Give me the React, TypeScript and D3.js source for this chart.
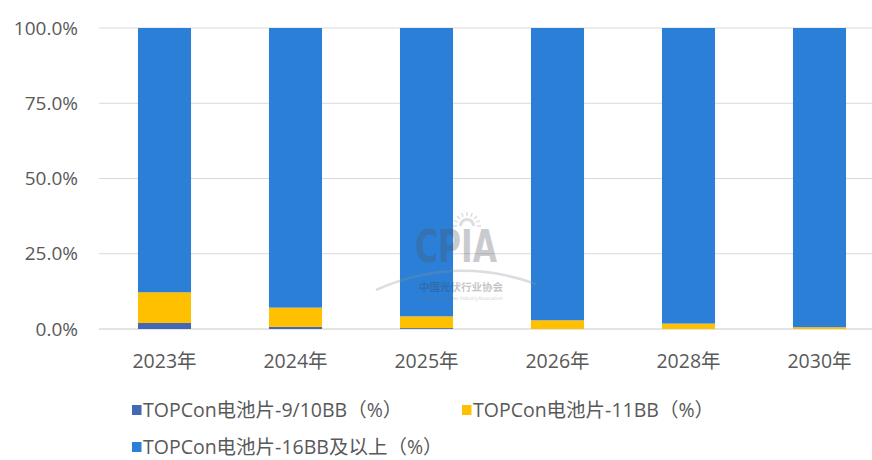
import * as d3 from "d3";
import { useEffect, useRef } from "react";

const years = ["2023年", "2024年", "2025年", "2026年", "2028年", "2030年"];
const bb910 = [2.0, 0.7, 0.3, 0, 0, 0];
const bb11 = [10.2, 6.4, 3.9, 2.9, 1.8, 0.6];
const bb16 = [87.8, 92.9, 95.8, 97.1, 98.2, 99.4];
const yTicks = [0, 25, 50, 75, 100];

const seriesNames = ["TOPCon电池片-9/10BB（%）", "TOPCon电池片-11BB（%）", "TOPCon电池片-16BB及以上（%）"];
const colors = ["#4468B4", "#FFC000", "#2B7FD7"];

export default function App() {
  const svgRef = useRef<SVGSVGElement>(null);

  useEffect(() => {
    if (!svgRef.current) return;
    const svg = d3.select(svgRef.current);
    svg.selectAll("*").remove();

    const font = "'Noto Sans CJK SC', 'Open Sans', sans-serif";
    const axisFont = "'Open Sans', 'Noto Sans CJK SC', sans-serif";
    const rows = years.map((y, i) => ({ year: y, a: bb910[i], b: bb11[i], c: bb16[i] }));

    const x = d3.scaleBand().domain(years).range([99, 885]).paddingInner(0.595).paddingOuter(0.2975);
    const y = d3.scaleLinear().domain([0, 100]).range([329, 28]);

    // gridlines
    svg
      .append("g")
      .selectAll("line")
      .data(yTicks)
      .join("line")
      .attr("x1", 99)
      .attr("x2", 885)
      .attr("y1", (d) => y(d))
      .attr("y2", (d) => y(d))
      .attr("stroke", (d) => (d === 0 ? "#c8c8c8" : "#d9d9d9"))
      .attr("stroke-width", 1);

    // y labels
    svg
      .append("g")
      .selectAll("text")
      .data(yTicks)
      .join("text")
      .attr("x", 78)
      .attr("y", (d) => y(d))
      .attr("dy", "0.35em")
      .attr("text-anchor", "end")
      .attr("fill", "#595959")
      .attr("font-family", axisFont)
      .attr("font-size", 19)
      .text((d) => `${d.toFixed(1)}%`);

    const stack = d3.stack<any>().keys(["a", "b", "c"])(rows);

    svg
      .append("g")
      .selectAll("g")
      .data(stack)
      .join("g")
      .attr("fill", (_, i) => colors[i])
      .selectAll("rect")
      .data((d) => d)
      .join("rect")
      .attr("x", (d) => x(d.data.year)!)
      .attr("width", x.bandwidth())
      .attr("y", (d) => y(d[1]))
      .attr("height", (d) => Math.max(0, y(d[0]) - y(d[1])));

    // watermark on top of the bars
    const wm = svg.append("g").attr("opacity", 0.3);
    wm.append("path")
      .attr("d", "M376,290 Q455,255 536,284")
      .attr("fill", "none")
      .attr("stroke", "#8a9099")
      .attr("stroke-width", 2.5);
    const sun = wm.append("g").attr("transform", "translate(467,226)");
    sun.append("path")
      .attr("d", d3.arc()({ innerRadius: 5, outerRadius: 8, startAngle: -Math.PI / 2, endAngle: Math.PI / 2 }) as string)
      .attr("fill", "#8a9099");
    d3.range(9).forEach((k) => {
      const a = -Math.PI + (k * Math.PI) / 8;
      sun.append("line")
        .attr("x1", Math.cos(a) * 10)
        .attr("y1", Math.sin(a) * 10)
        .attr("x2", Math.cos(a) * 14)
        .attr("y2", Math.sin(a) * 14)
        .attr("stroke", "#8a9099")
        .attr("stroke-width", 1.5);
    });
    wm.append("text")
      .attr("x", 415)
      .attr("y", 262)
      .attr("textLength", 82)
      .attr("lengthAdjust", "spacingAndGlyphs")
      .attr("fill", "#4f5660")
      .attr("font-family", "'DejaVu Sans', sans-serif")
      .attr("font-weight", 700)
      .attr("font-size", 44)
      .text("CPIA");
    wm.append("text")
      .attr("x", 461)
      .attr("y", 291)
      .attr("text-anchor", "middle")
      .attr("fill", "#3d434b")
      .attr("font-family", font)
      .attr("font-weight", 700)
      .attr("font-size", 10.5)
      .text("中国光伏行业协会");
    wm.append("text")
      .attr("x", 461)
      .attr("y", 300)
      .attr("text-anchor", "middle")
      .attr("fill", "#6a7079")
      .attr("font-family", font)
      .attr("font-size", 4.5)
      .text("China Photovoltaic Industry Association");

    // x labels
    svg
      .append("g")
      .selectAll("text")
      .data(years)
      .join("text")
      .attr("x", (d) => x(d)! + x.bandwidth() / 2)
      .attr("y", 361)
      .attr("dy", "0.35em")
      .attr("text-anchor", "middle")
      .attr("fill", "#595959")
      .attr("font-family", axisFont)
      .attr("font-size", 19.5)
      .text((d) => d);

    // legend
    const legendPos = [
      [132, 410],
      [462, 410],
      [132, 447],
    ];
    const lg = svg.append("g");
    seriesNames.forEach((name, i) => {
      const [lx, ly] = legendPos[i];
      lg.append("rect")
        .attr("x", lx)
        .attr("y", ly - 5)
        .attr("width", 9.5)
        .attr("height", 10)
        .attr("fill", colors[i]);
      lg.append("text")
        .attr("x", lx + 11)
        .attr("y", ly)
        .attr("dy", "0.35em")
        .attr("fill", "#595959")
        .attr("font-family", axisFont)
        .attr("font-size", 19.5)
        .text(name);
    });
  }, []);

  return (
    <svg
      ref={svgRef}
      width={872}
      height={460}
      style={{ position: "absolute", left: 0, top: 0, background: "#fff" }}
    />
  );
}
